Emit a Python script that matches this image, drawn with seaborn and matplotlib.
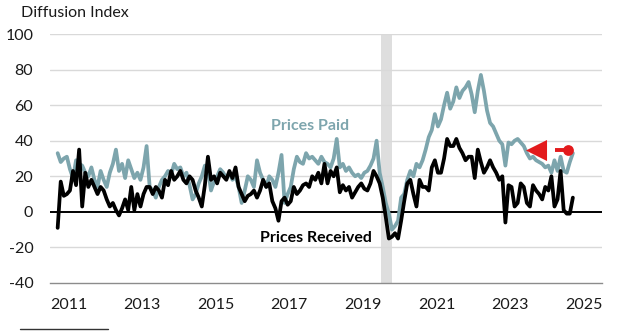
import numpy as np
import pandas as pd
import matplotlib
matplotlib.use("Agg")
import matplotlib.pyplot as plt
from matplotlib.lines import Line2D
import seaborn as sns

# ---------------- data (monthly, Mar 2011 - Mar 2025) ----------------
start_month = "2011-03-01"

prices_paid = [
    33, 28, 30, 31, 24, 19, 29, 27, 26, 22,                 # 2011 (Mar-Dec)
    20, 25, 18, 14, 23, 18, 14, 22, 27, 35, 23, 27,         # 2012
    19, 29, 24, 19, 22, 18, 25, 37, 14, 12, 8, 14,          # 2013
    18, 20, 23, 21, 27, 24, 25, 20, 22, 15, 7, 10,          # 2014
    16, 20, 26, 24, 12, 17, 20, 24, 22, 19, 22, 18,         # 2015
    20, 14, 5, 12, 20, 18, 14, 29, 22, 18, 14, 20,          # 2016
    18, 14, 22, 32, 5, 10, 14, 24, 31, 28, 27, 33,          # 2017
    30, 31, 29, 27, 31, 28, 27, 25, 30, 41, 25, 27,         # 2018
    23, 25, 22, 20, 21, 19, 22, 23, 26, 30, 40, 22,         # 2019
    14, 5, -1, -10, -8, -5, 8, 10, 18, 23, 20, 27,          # 2020
    25, 29, 35, 42, 46, 55, 48, 52, 60, 67, 58, 62,         # 2021
    70, 64, 68, 70, 73, 66, 56, 68, 77, 68, 57, 50,         # 2022
    48, 44, 40, 38, 26, 39, 38, 40, 41, 39, 37, 33,         # 2023
    30, 31, 29, 28, 27, 25, 26, 22, 29, 23, 31, 23,         # 2024
    22, 28, 33,                                             # 2025 (Jan-Mar)
]

prices_received = [
    -9, 17, 9, 10, 12, 23, 15, 35, 3, 22,                   # 2011 (Mar-Dec)
    14, 18, 14, 10, 14, 12, 7, 3, 5, 1, -2, 2,              # 2012
    7, 1, 14, 1, 10, 3, 10, 14, 14, 10, 14, 12,             # 2013
    8, 18, 15, 23, 18, 20, 23, 18, 16, 20, 18, 12,          # 2014
    8, 3, 15, 31, 18, 20, 16, 22, 20, 18, 23, 19,           # 2015
    25, 14, 10, 6, 9, 10, 12, 8, 12, 18, 14, 16,            # 2016
    6, 2, -5, 6, 8, 4, 6, 14, 10, 12, 15, 16,               # 2017
    14, 20, 18, 22, 16, 27, 16, 23, 20, 25, 11, 15,         # 2018
    12, 14, 8, 11, 14, 16, 13, 12, 16, 23, 20, 16,          # 2019
    8, -3, -15, -14, -12, -15, -5, 6, 16, 18, 10, 3,        # 2020
    18, 14, 14, 12, 25, 29, 22, 22, 30, 41, 37, 37,         # 2021
    41, 36, 33, 29, 31, 31, 19, 35, 28, 22, 25, 29,         # 2022
    25, 22, 18, 20, -6, 15, 14, 3, 5, 16, 14, 5,            # 2023
    3, 15, 12, 10, 7, 14, 12, 20, 3, 7, 23, 1,              # 2024
    -1, -1, 8,                                              # 2025 (Jan-Mar)
]

recession = (2020.0, 2020.3)          # shaded recession (decimal years)
latest_marker_value = 35              # red dot / arrow level
year_ticks = list(range(2011, 2027))
year_labels = ["2011", "2013", "2015", "2017", "2019", "2021", "2023", "2025"]
y_ticks = [-40, -20, 0, 20, 40, 60, 80, 100]

# ---------------- frame ----------------
dates = pd.date_range(start_month, periods=len(prices_paid), freq="MS")
df = pd.DataFrame({
    "t": dates.year + (dates.month - 0.5) / 12.0,
    "paid": prices_paid,
    "received": prices_received,
})

# ---------------- style ----------------
sns.set_style("white")
plt.rcParams["font.family"] = ["Lato", "DejaVu Sans"]

TEAL = "#7DA5AD"
GRID = "#D9D9D9"
RED = "#E31A1C"

fig = plt.figure(figsize=(6.41, 3.35), dpi=100)
ax = fig.add_axes([50 / 641, 1 - 283 / 335, 552 / 641, 249 / 335])

ax.axvspan(*recession, color="#DEDEDE", zorder=0, lw=0)
for yv in y_ticks[1:]:
    if yv != 0:
        ax.axhline(yv, color=GRID, lw=1.0, zorder=0.5)
ax.axhline(0, color="black", lw=1.4, zorder=1)

sns.lineplot(data=df, x="t", y="paid", ax=ax, color=TEAL, lw=2.7, zorder=3)
sns.lineplot(data=df, x="t", y="received", ax=ax, color="black", lw=2.7, zorder=4)

# latest-value marker with arrow
t_last = df["t"].iloc[-1]
dot_x = t_last - 0.12
ax.plot([dot_x, dot_x - 0.36], [latest_marker_value] * 2, color=RED, lw=2.8,
        solid_capstyle="butt", zorder=6)
ax.scatter([dot_x], [latest_marker_value], s=60, color=RED, zorder=7, lw=0)
ax.scatter([dot_x - 0.88], [latest_marker_value], s=230, marker="<", color=RED,
           zorder=7, lw=0)

# series labels
ax.text(2018.08, 48.5, "Prices Paid", color=TEAL, fontsize=11.5, fontweight="bold",
        ha="center", va="center")
ax.text(2018.22, -14.5, "Prices Received", color="black", fontsize=11.5,
        fontweight="bold", ha="center", va="center")

# axes formatting
ax.set_xlim(2011, 2026)
ax.set_ylim(-40, 100)
ax.set_yticks(y_ticks)
ax.set_yticklabels([str(v) for v in y_ticks])
ax.set_xticks(year_ticks)
ax.set_xticklabels([""] * len(year_ticks))
ax.set_xticks([int(l) + 0.5 for l in year_labels], minor=True)
ax.set_xticklabels(year_labels, minor=True)
ax.tick_params(axis="x", which="major", direction="in", length=5, width=0.9,
               color="#8C8C8C")
ax.tick_params(axis="x", which="minor", length=0, pad=11, labelsize=11.5,
               labelcolor="#1A1A1A")
ax.tick_params(axis="y", length=0, pad=12, labelsize=11.5, labelcolor="#1A1A1A")
ax.set_xlabel("")
ax.set_ylabel("")
for s in ["left", "right", "top"]:
    ax.spines[s].set_visible(False)
ax.spines["bottom"].set_color("#8C8C8C")
ax.spines["bottom"].set_linewidth(1.0)

fig.text(21 / 641, 1 - 13 / 335, "Diffusion Index", fontsize=11.5, color="#1A1A1A",
         ha="left", va="center")
fig.add_artist(Line2D([20 / 641, 108 / 641], [1 - 329 / 335] * 2, color="#333333",
                      lw=1.0))

fig.savefig("out.png", dpi=100)
